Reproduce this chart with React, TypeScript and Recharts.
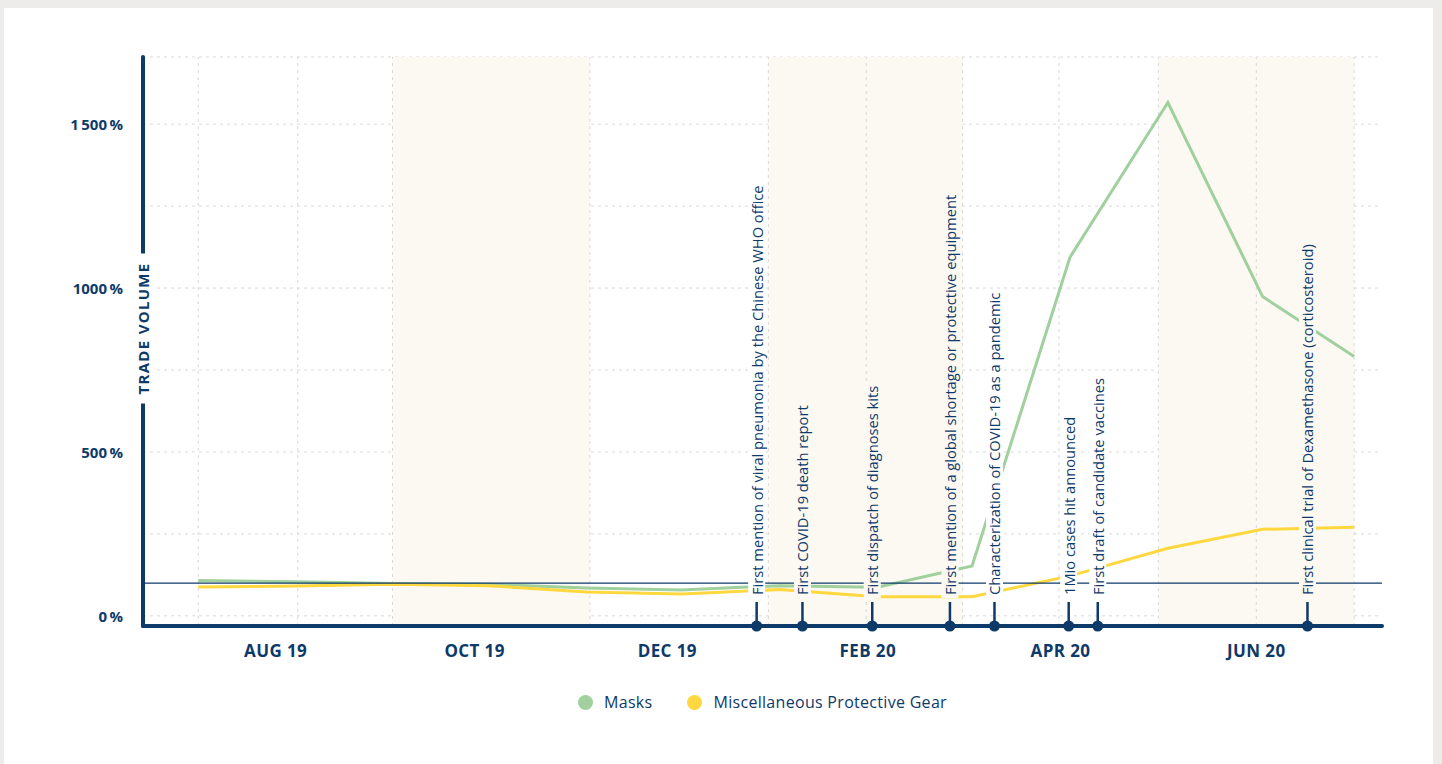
import React, { useLayoutEffect, useRef, useState } from 'react';
import {
  LineChart,
  Line,
  XAxis,
  YAxis,
  CartesianGrid,
  ReferenceLine,
  ReferenceArea,
  ReferenceDot,
  Legend,
} from 'recharts';

const NAVY = '#0e3a6a';
const GREEN = '#9fd09d';
const YELLOW = '#ffd73e';
const BAND = '#fcf8f2';
const GRID = '#d9d9d9';
const FONT = '"Open Sans", "Noto Sans", sans-serif';

// Horizontal positions are days counted from 1 July 2019
const monthDays = [0, 31, 62, 92, 123, 153, 184, 215, 245, 276, 307, 337, 366];

// Trade volume in percent of the 2019 reference level
const masks = [108, 104, 99, 96, 85, 79, 92, 87, 152, 1094, 1566, 974, 791];
const protectiveGear = [88, 91, 96, 92, 73, 67, 80, 58, 58, 122, 206, 264, 270];

const seriesNames = ['Masks', 'Miscellaneous Protective Gear'];

const monthLabels = ['AUG 19', 'OCT 19', 'DEC 19', 'FEB 20', 'APR 20', 'JUN 20'];
const monthLabelDays = [24.5, 87.5, 148.5, 212, 273, 335];

const gridDays = [0, 31.5, 61.5, 124, 180.5, 211.5, 242, 272.5, 304, 335, 366];
const bandStarts = [61.5, 180.5, 304];
const bandEnds = [124, 242, 366];

const yTicks = [0, 250, 500, 750, 1000, 1250, 1500];
const yLabelValues = [0, 500, 1000, 1500];
const yLabelTexts = ['0\u2009%', '500\u2009%', '1000\u2009%', '1\u2009500\u2009%'];

const BASELINE = 100;
const X_DOMAIN: [number, number] = [-17.5, 374.8];
const Y_DOMAIN: [number, number] = [-31, 1705];

const eventDays = [176.8, 191.3, 213.4, 238, 252.1, 275.6, 284.8, 351.2];
const eventTexts = [
  'First mention of viral pneumonia by the Chinese WHO office',
  'First COVID-19 death report',
  'First dispatch of diagnoses kits',
  'First mention of a global shortage or protective equipment',
  'Characterization of COVID-19 as a pandemic',
  '1Mio cases hit announced',
  'First draft of candidate vaccines',
  'First clinical trial of Dexamethasone (corticosteroid)',
];

const rows = monthDays.map((day, i) => ({
  day,
  masks: masks[i],
  gear: protectiveGear[i],
}));

const inBand = (d: number) =>
  bandStarts.some((s, i) => d >= s && d <= bandEnds[i]);

function EventMarker(props: any) {
  const { cx, cy, text, bg } = props;
  const ref = useRef<SVGTextElement>(null);
  const [len, setLen] = useState(text.length * 7);
  useLayoutEffect(() => {
    if (ref.current) setLen(ref.current.getComputedTextLength());
  }, [text]);
  if (cx == null || cy == null) return null;
  const base = cy - 31;
  return (
    <g>
      <line x1={cx} x2={cx} y1={cy} y2={cy - 24} stroke={NAVY} strokeWidth={2.5} />
      <circle cx={cx} cy={cy} r={5.5} fill={NAVY} />
      <rect x={cx - 8.5} y={base - len - 3} width={17} height={len + 6} fill={bg} />
      <text
        ref={ref}
        x={cx}
        y={base}
        transform={`rotate(-90 ${cx} ${base})`}
        dominantBaseline="central"
        fontFamily={FONT}
        fontSize={14.7}
        fill={NAVY}
      >
        {text}
      </text>
    </g>
  );
}

function YTick(props: any) {
  const { x, y, payload } = props;
  const idx = yLabelValues.indexOf(payload.value);
  if (idx < 0) return null;
  return (
    <text
      x={x}
      y={y}
      textAnchor="end"
      dominantBaseline="central"
      fontFamily={FONT}
      fontWeight={700}
      fontSize={15}
      fill={NAVY}
    >
      {yLabelTexts[idx]}
    </text>
  );
}

function XTick(props: any) {
  const { x, y, payload } = props;
  const idx = monthLabelDays.indexOf(payload.value);
  if (idx < 0) return null;
  return (
    <text
      x={x}
      y={y + 31}
      textAnchor="middle"
      fontFamily={FONT}
      fontWeight={700}
      fontSize={17}
      letterSpacing={0.4}
      fill={NAVY}
    >
      {monthLabels[idx]}
    </text>
  );
}

function YTitle(props: any) {
  const vb = props.viewBox || { x: 83, y: 57, width: 60, height: 569 };
  const cx = vb.x + vb.width;
  const cy = vb.y + vb.height / 2 - 13;
  return (
    <g>
      <rect x={cx - 10} y={cy - 75} width={20} height={150} fill="#ffffff" />
      <text
        x={cx}
        y={cy}
        transform={`rotate(-90 ${cx} ${cy})`}
        textAnchor="middle"
        dominantBaseline="central"
        fontFamily={FONT}
        fontWeight={700}
        fontSize={15}
        letterSpacing={1.3}
        fill={NAVY}
      >
        TRADE VOLUME
      </text>
    </g>
  );
}

function LegendContent() {
  const colors = [GREEN, YELLOW];
  return (
    <div
      style={{
        display: 'flex',
        justifyContent: 'center',
        alignItems: 'center',
        gap: 35,
        fontFamily: FONT,
        fontSize: 16,
        letterSpacing: 0.3,
        color: NAVY,
        lineHeight: '20px',
      }}
    >
      {seriesNames.map((n, i) => (
        <div key={n} style={{ display: 'flex', alignItems: 'center' }}>
          <span
            style={{
              display: 'inline-block',
              width: 15,
              height: 15,
              borderRadius: '50%',
              background: colors[i],
              marginRight: 11,
            }}
          />
          <span>{n}</span>
        </div>
      ))}
    </div>
  );
}

export default function App() {
  return (
    <div
      style={{
        position: 'absolute',
        left: 0,
        top: 0,
        width: 1442,
        height: 764,
        background: '#edecea',
        overflow: 'hidden',
      }}
    >
      <div
        style={{
          position: 'absolute',
          left: 4,
          top: 8,
          width: 1429,
          height: 760,
          background: '#ffffff',
        }}
      />
      <div style={{ position: 'absolute', left: 0, top: 0 }}>
        <LineChart
          width={1442}
          height={764}
          data={rows}
          margin={{ top: 57, right: 60, bottom: 108, left: 83 }}
        >
          {bandStarts.map((s, i) => (
            <ReferenceArea
              key={`band-${i}`}
              x1={s}
              x2={bandEnds[i]}
              y1={Y_DOMAIN[0]}
              y2={Y_DOMAIN[1]}
              fill={BAND}
              fillOpacity={1}
              stroke="none"
              ifOverflow="visible"
            />
          ))}
          <CartesianGrid vertical={false} stroke={GRID} strokeDasharray="3 4" />
          {gridDays.map((d) => (
            <ReferenceLine
              key={`g-${d}`}
              x={d}
              stroke={GRID}
              strokeDasharray="3 4"
              ifOverflow="visible"
            />
          ))}
          <XAxis
            dataKey="day"
            type="number"
            domain={X_DOMAIN}
            allowDataOverflow
            ticks={monthLabelDays}
            interval={0}
            height={30}
            tickSize={0}
            tickMargin={0}
            tickLine={false}
            tick={<XTick />}
            axisLine={{ stroke: NAVY, strokeWidth: 4, strokeLinecap: 'round' }}
          />
          <YAxis
            type="number"
            domain={Y_DOMAIN}
            allowDataOverflow
            ticks={yTicks}
            interval={0}
            width={60}
            tickSize={0}
            tickMargin={20}
            tickLine={false}
            tick={<YTick />}
            axisLine={{ stroke: NAVY, strokeWidth: 4, strokeLinecap: 'round' }}
            label={{ content: (p: any) => <YTitle {...p} /> }}
          />
          <Line
            type="linear"
            dataKey="masks"
            name={seriesNames[0]}
            stroke={GREEN}
            strokeWidth={3}
            dot={false}
            activeDot={false}
            isAnimationActive={false}
          />
          <Line
            type="linear"
            dataKey="gear"
            name={seriesNames[1]}
            stroke={YELLOW}
            strokeWidth={3}
            dot={false}
            activeDot={false}
            isAnimationActive={false}
          />
          <ReferenceLine y={BASELINE} stroke={NAVY} strokeWidth={1.2} ifOverflow="visible" />
          {eventDays.map((d, i) => (
            <ReferenceDot
              key={`ev-${i}`}
              x={d}
              y={Y_DOMAIN[0]}
              r={5}
              ifOverflow="visible"
              shape={(p: any) => (
                <EventMarker
                  cx={p.cx}
                  cy={p.cy}
                  text={eventTexts[i]}
                  bg={inBand(d) ? BAND : '#ffffff'}
                />
              )}
            />
          ))}
          <Legend
            verticalAlign="middle"
            align="center"
            layout="horizontal"
            width={1239}
            wrapperStyle={{ top: 692, left: 143, width: 1239 }}
            content={() => <LegendContent />}
          />
        </LineChart>
      </div>
    </div>
  );
}
